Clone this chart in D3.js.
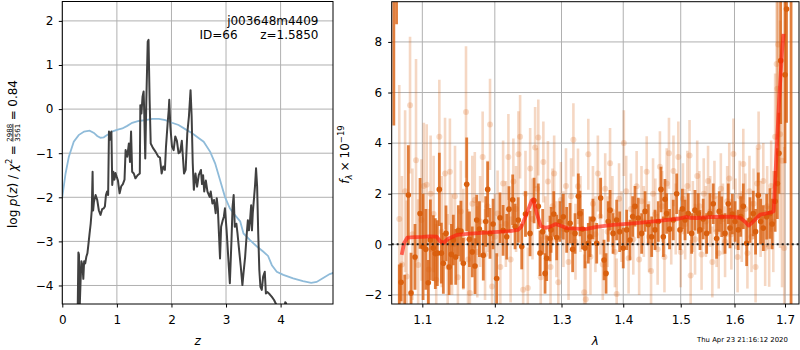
<!DOCTYPE html>
<html>
<head>
<meta charset="utf-8">
<script src="https://cdn.jsdelivr.net/npm/d3@7"></script>
<style>
  body { margin: 0; background: #fff; }
  svg { display: block; }
  text { font-family: "DejaVu Sans", sans-serif; }
</style>
</head>
<body>
<svg id="chart" width="800" height="350"></svg>
<script>
// ---------------- redshift probability, log p(z) ----------------
const pzZ = [0.28,0.295,0.305,0.32,0.335,0.35,0.37,0.385,0.40,0.42,0.44,0.46,0.48,0.50,0.52,0.54,0.555,0.565,0.58,0.61,
  0.64,0.67,0.70,0.73,0.76,0.78,0.80,0.82,0.84,0.855,0.87,0.885,0.90,0.915,0.935,0.955,0.975,1.0,1.02,1.05,
  1.08,1.11,1.14,1.16,1.19,1.22,1.24,1.26,1.28,1.31,1.34,1.38,1.42,1.43,1.45,1.47,1.49,1.50,1.52,1.54,
  1.565,1.58,1.60,1.62,1.66,1.71,1.76,1.79,1.82,1.85,1.88,1.90,1.93,1.95,1.96,1.98,2.01,2.04,2.07,2.10,
  2.13,2.16,2.19,2.21,2.23,2.26,2.29,2.32,2.35,2.37,2.39,2.41,2.44,2.47,2.50,2.54,2.56,2.58,2.60,2.63,
  2.66,2.70,2.72,2.75,2.78,2.81,2.83,2.85,2.87,2.89,2.91,2.94,2.96,2.98,3.01,3.04,3.07,3.10,3.12,3.14,
  3.16,3.19,3.21,3.24,3.27,3.30,3.32,3.35,3.38,3.40,3.42,3.44,3.46,3.475,3.49,3.51,3.53,3.55,3.57,3.59,
  3.61,3.63,3.655,3.68,3.71,3.73,3.76,3.80,3.84,3.88,3.90,3.93,3.96,4.05,4.085,4.10,4.12,4.20];
const pzLog = [-4.8,-3.25,-3.3,-4.45,-3.9,-3.45,-3.55,-3.85,-3.45,-3.5,-3.35,-3.27,-3.05,-2.82,-2.6,-2.29,-1.42,-2.3,-2.1,-1.95,
  -2.06,-2.3,-2.40,-2.27,-2.25,-2.21,-1.95,-1.87,-1.95,-0.51,-0.7,-0.55,-0.51,-1.72,-1.42,-1.6,-1.45,-1.55,-1.62,-1.91,
  -1.75,-1.7,-1.60,-0.93,-1.08,-0.78,-1.2,-0.51,-1.42,-1.46,-1.57,-1.50,-1.46,0.09,-0.1,0.28,0.40,-0.02,-1.12,0.21,
  1.53,1.57,0.21,-0.78,-0.88,-0.97,-1.08,-1.1,-1.46,-1.3,-1.38,-0.85,-0.32,-0.02,0.21,-0.40,-0.85,-0.93,-0.62,-0.72,
  -1.0,-0.97,-0.72,-1.08,-1.46,-1.38,-0.55,-0.17,0.43,-0.17,-1.23,-1.83,-1.46,-1.76,-1.50,-1.38,-1.7,-1.5,-1.87,-1.62,
  -1.87,-1.99,-1.87,-2.14,-2.06,-2.36,-2.02,-2.25,-2.82,-3.39,-2.67,-2.52,-2.44,-2.25,-2.74,-3.35,-3.95,-2.97,-2.21,-1.95,
  -2.67,-2.6,-2.82,-3.2,-3.57,-3.99,-3.72,-3.35,-2.82,-2.52,-2.75,-2.52,-2.18,-2.75,-2.36,-2.06,-1.76,-1.34,-1.76,-2.82,
  -3.65,-4.03,-4.1,-3.80,-3.69,-4.18,-4.15,-4.2,-4.26,-4.33,-4.38,-4.46,-4.75,-4.75,-4.38,-4.4,-4.7,-5.0];

// prior curve
const priorZ = [0,0.06,0.12,0.21,0.30,0.40,0.50,0.58,0.64,0.70,0.76,0.82,0.91,1.0,1.10,1.19,1.28,1.40,1.52,1.65,
  1.77,1.89,2.01,2.13,2.26,2.38,2.49,2.59,2.71,2.80,2.89,2.98,3.07,3.16,3.26,3.32,3.44,3.56,3.68,3.77,
  3.84,3.93,4.05,4.23,4.41,4.56,4.66,4.78,4.90,4.98];
const priorLog = [-1.99,-1.46,-1.08,-0.74,-0.59,-0.51,-0.49,-0.54,-0.61,-0.65,-0.64,-0.59,-0.51,-0.47,-0.44,-0.38,-0.31,-0.27,-0.25,-0.22,
  -0.22,-0.25,-0.31,-0.36,-0.46,-0.55,-0.65,-0.74,-0.97,-1.23,-1.61,-1.99,-2.25,-2.40,-2.55,-2.82,-2.97,-3.11,-3.23,-3.33,
  -3.54,-3.69,-3.76,-3.84,-3.90,-3.94,-3.92,-3.83,-3.74,-3.71];

const pzTicksX = [0, 1, 2, 3, 4];
const pzTicksY = [-4, -3, -2, -1, 0, 1, 2];

// ---------------- spectrum ----------------
const darkWave = [1.0630,1.0665,1.0700,1.0723,1.0770,1.0817,1.0852,1.0904,1.0970,1.1010,1.1046,1.1079,1.1107,1.1146,1.1173,1.1200,1.1227,1.1254,1.1281,1.1317,
  1.1360,1.1390,1.1417,1.1450,1.1486,1.1522,1.1555,1.1602,1.1640,1.1680,1.1718,1.1742,1.1780,1.1835,1.1870,1.1898,1.1931,1.1975,1.2027,1.2075,
  1.2120,1.2173,1.2206,1.2260,1.2295,1.2343,1.2394,1.2450,1.2518,1.2579,1.2643,1.2669,1.2710,1.2746,1.2771,1.2822,1.2838,1.2880,1.2925,1.2975,
  1.3028,1.3081,1.3134,1.3175,1.3213,1.3265,1.3292,1.3330,1.3372,1.3425,1.3453,1.3500,1.3561,1.3626,1.3681,1.3714,1.3750,1.3780,1.3830,1.3890,
  1.3940,1.4000,1.4058,1.4114,1.4160,1.4199,1.4255,1.4313,1.4371,1.4427,1.4486,1.4544,1.4601,1.4649,1.4690,1.4719,1.4749,1.4800,1.4866,1.4927,
  1.4987,1.5030,1.5077,1.5136,1.5198,1.5259,1.5319,1.5351,1.5410,1.5474,1.5536,1.5597,1.5661,1.5710,1.5756,1.5819,1.5881,1.5914,1.5960,1.6010,
  1.6072,1.6120,1.6170,1.6235,1.6300,1.6364,1.6410,1.6464,1.6510,1.6563,1.6630,1.6696,1.6740,1.6800,1.6845,1.6878,1.6912,1.7000,1.7031,1.7124];
const darkFlux = [13.0,14.0,-3.5,-1.5,-2.5,1.95,-1.93,-0.5,1.22,-0.1,-0.2,-1.52,0.17,-0.15,-0.37,-0.35,2.17,-0.35,-0.75,0.43,
  -0.9,-0.4,0.17,-0.5,0.54,0.52,-0.75,2.37,0.2,-0.3,-0.86,0.96,0.6,-0.43,0.9,2.17,0.43,0.8,-1.35,1.05,
  0.55,0.3,1.39,1.76,0.7,0.96,-0.09,1.2,0.43,1.73,1.5,-0.35,0.5,-1.15,-0.55,0.23,0.57,1.2,0.27,0.9,
  1.09,0.57,0.83,-0.2,0.43,1.9,1.22,0.6,-0.15,0.04,0.3,1.0,0.04,1.83,-0.62,-1.15,0.9,1.35,0.43,0.96,
  0.5,-0.15,0.57,0.17,1.1,1.5,1.04,0.43,1.3,0.78,0.30,0.57,0.9,2.17,0.3,1.78,1.22,0.6,0.96,2.0,
  0.57,1.4,0.96,1.22,0.43,1.35,1.22,0.57,1.0,0.43,1.22,1.6,0.23,1.3,1.09,0.43,1.6,0.64,1.2,0.9,
  0.57,1.1,1.5,0.04,0.96,1.22,0.5,1.94,0.9,0.64,1.09,1.22,0.8,1.7,2.4,3.6,7.26,6.7,9.3,14.0];
const darkErr = [8.3,5.3,2.7,0.75,1.3,1.97,1.6,1.3,1.4,2.1,1.6,0.9,1.6,1.3,1.4,1.3,1.45,1.2,1.2,1.1,
  1.1,1.2,1.0,1.1,1.0,1.2,1.0,1.85,1.1,1.0,1.1,1.0,1.1,1.0,1.0,1.1,1.0,1.0,1.0,1.0,
  1.0,0.9,0.9,1.0,0.9,0.9,0.9,0.9,0.9,0.9,0.9,0.9,0.9,0.8,0.9,0.9,0.9,0.9,0.9,0.8,
  0.9,0.9,0.8,0.9,0.8,0.9,0.9,0.8,0.8,0.8,0.8,0.8,0.8,0.8,0.8,0.8,0.8,0.8,0.8,0.8,
  0.8,0.8,0.8,0.8,0.8,0.8,0.8,0.8,0.8,0.8,0.8,0.8,0.8,0.9,0.8,0.8,0.8,0.8,0.8,0.8,
  0.8,0.8,0.8,0.8,0.8,0.8,0.8,0.8,0.8,0.8,0.8,0.8,0.8,0.8,0.8,0.8,0.8,0.8,0.8,0.8,
  0.8,0.8,0.9,0.9,0.9,0.9,0.9,0.9,0.9,0.9,0.9,1.0,1.0,1.2,1.4,1.6,2.5,3.5,4.5,17];

const lightWave = [1.0700,1.0734,1.0775,1.0796,1.0839,1.0870,1.0917,1.0945,1.0989,1.1020,1.1058,1.1085,1.1110,1.1150,1.1185,1.1227,1.1260,1.1304,1.1340,1.1370,
  1.1400,1.1440,1.1480,1.1520,1.1555,1.1592,1.1620,1.1646,1.1680,1.1715,1.1750,1.1790,1.1826,1.1860,1.1895,1.1931,1.1960,1.2000,1.2040,1.2080,
  1.2120,1.2160,1.2197,1.2230,1.2270,1.2310,1.2345,1.2370,1.2415,1.2450,1.2485,1.2520,1.2555,1.2595,1.2625,1.2643,1.2680,1.2720,1.2750,1.2790,
  1.2830,1.2860,1.2886,1.2920,1.2950,1.2990,1.3030,1.3070,1.3110,1.3150,1.3187,1.3220,1.3260,1.3300,1.3359,1.3385,1.3425,1.3460,1.3500,1.3540,
  1.3580,1.3620,1.3660,1.3700,1.3740,1.3780,1.3820,1.3860,1.3890,1.3930,1.3970,1.4010,1.4050,1.4090,1.4130,1.4170,1.4227,1.4270,1.4310,1.4350,
  1.4400,1.4440,1.4475,1.4510,1.4550,1.4590,1.4630,1.4670,1.4710,1.4750,1.4790,1.4830,1.4870,1.4910,1.4957,1.5000,1.5040,1.5080,1.5120,1.5160,
  1.5180,1.5220,1.5260,1.5300,1.5340,1.5380,1.5420,1.5460,1.5500,1.5540,1.5580,1.5620,1.5660,1.5700,1.5740,1.5780,1.5820,1.5860,1.5900,1.5940,
  1.5980,1.6020,1.6060,1.6100,1.6140,1.6170,1.6210,1.6250,1.6290,1.6330,1.6370,1.6410,1.6440,1.6470,1.6510,1.6563,1.6600,1.6640,1.6680,1.6720,
  1.6763,1.6800,1.6830,1.6845,1.6860,1.6900,1.6940,1.6985];
const lightFlux = [1.0,-0.8,2.1,-1.27,5.5,0.4,3.32,-0.82,0.96,2.3,2.35,-1.0,2.0,1.2,-1.4,4.25,0.5,2.8,-0.9,2.87,
  0.0,1.9,-1.3,1.3,0.2,5.23,-0.6,-1.93,1.6,1.75,-0.3,0.9,3.45,-0.4,1.5,4.74,-1.67,0.3,1.22,-0.9,
  2.4,0.8,3.45,-0.6,2.48,1.4,3.56,4.25,-1.8,2.0,-1.73,3.0,1.0,3.83,2.2,4.22,-1.3,3.25,0.3,2.48,
  -0.9,1.5,2.8,0.2,-1.5,1.75,0.6,2.3,-0.7,1.9,4.13,0.1,2.29,1.2,-1.9,-2.17,3.56,-0.49,1.6,0.4,
  2.8,1.1,-0.8,2.2,0.5,3.2,1.3,-0.3,-1.96,1.8,0.7,4.0,2.1,-0.55,1.4,0.2,2.29,-0.6,1.7,0.9,
  2.87,0.3,-1.06,2.0,1.2,-0.2,3.07,1.5,-0.5,2.4,3.6,0.6,2.9,1.0,3.45,-0.3,1.8,0.8,2.3,3.51,
  -1.23,1.1,0.2,2.7,1.5,-0.4,2.0,0.9,2.5,1.3,-0.7,1.9,0.5,-0.35,2.2,1.0,0.1,1.7,2.6,0.4,
  3.57,1.2,-0.5,1.9,0.7,3.17,1.4,-0.35,2.1,0.3,1.6,-0.9,2.4,3.85,1.0,2.5,-0.15,1.5,-0.08,2.3,
  0.9,4.25,7.13,6.15,7.9,4.35,3.3,-0.15];
const lightErr = [5.3,3.5,3.2,3.0,2.7,2.6,4.0,2.6,2.4,2.5,2.4,2.4,2.3,2.3,2.2,2.25,2.2,2.2,2.1,2.1,
  2.0,2.0,2.0,2.0,2.0,2.6,2.0,1.9,1.9,1.9,1.8,1.8,1.8,1.8,1.8,1.8,1.8,1.7,1.7,1.7,
  1.7,1.7,1.7,1.7,1.7,1.7,1.7,1.65,1.7,1.7,1.6,1.6,1.6,1.6,1.6,1.5,1.6,1.6,1.6,1.6,
  1.6,1.5,1.5,1.5,1.5,1.5,1.5,1.5,1.5,1.5,1.45,1.5,1.5,1.5,1.5,1.5,1.4,1.5,1.5,1.5,
  1.5,1.5,1.4,1.4,1.4,1.4,1.4,1.4,1.4,1.4,1.4,1.3,1.4,1.4,1.4,1.4,1.4,1.4,1.4,1.4,
  1.4,1.4,1.4,1.4,1.4,1.4,1.4,1.4,1.4,1.4,1.4,1.4,1.4,1.4,1.4,1.4,1.4,1.4,1.4,1.4,
  1.4,1.4,1.4,1.4,1.4,1.4,1.4,1.4,1.4,1.4,1.4,1.4,1.4,1.4,1.4,1.4,1.4,1.4,1.4,1.4,
  1.4,1.4,1.4,1.4,1.4,1.4,1.4,1.4,1.4,1.4,1.4,1.4,1.4,1.4,1.5,1.5,1.5,1.6,1.6,1.8,
  2.0,2.5,3.0,3.5,4.0,4.5,5.0,4.0];

// best-fit template
const modelWave = [1.0731,1.0761,1.0803,1.0900,1.1000,1.1100,1.1190,1.1237,1.1280,1.1348,1.1464,1.1650,1.1930,1.2220,1.2340,1.2390,1.2470,1.2540,1.2567,1.2620,
  1.2680,1.2746,1.2820,1.2910,1.2970,1.3080,1.3290,1.3400,1.3560,1.3830,1.4110,1.4400,1.4690,1.4980,1.5105,1.5160,1.5290,1.5600,1.5920,1.6110,
  1.6210,1.6275,1.6340,1.6500,1.6700,1.6770,1.6830,1.6880,1.6940,1.6970];
const modelFlux = [-0.42,0.04,0.26,0.28,0.29,0.31,0.30,0.12,0.05,0.22,0.37,0.42,0.47,0.52,0.57,0.70,1.22,1.72,1.78,1.22,
  0.72,0.65,0.69,0.80,0.75,0.64,0.61,0.61,0.69,0.77,0.82,0.88,0.95,1.02,1.08,1.05,1.04,1.08,1.09,1.05,
  0.88,0.74,0.86,1.17,1.25,1.31,3.71,5.69,7.66,8.32];

const specTicksX = [1.1, 1.2, 1.3, 1.4, 1.5, 1.6, 1.7];
const specTicksY = [-2, 0, 2, 4, 6, 8];

// ---------------- drawing ----------------
const svg = d3.select("#chart");
const FS = 12;
const GRID = "#b0b0b0";
const ORANGE = "#d95f0e";

function styleAxis(g) {
  g.select(".domain").remove();
  g.selectAll(".tick line").attr("stroke", "#000").attr("stroke-width", 1);
  g.selectAll(".tick text").attr("font-size", FS).attr("font-family", "DejaVu Sans, sans-serif").attr("fill", "#000");
  g.attr("font-size", null).attr("font-family", null);
}

function drawGrid(g, xs, ys, xt, yt, box) {
  g.selectAll("line.gx").data(xt).join("line").attr("class", "gx")
    .attr("x1", d => xs(d)).attr("x2", d => xs(d)).attr("y1", box.top).attr("y2", box.bottom)
    .attr("stroke", GRID).attr("stroke-width", 1);
  g.selectAll("line.gy").data(yt).join("line").attr("class", "gy")
    .attr("y1", d => ys(d)).attr("y2", d => ys(d)).attr("x1", box.left).attr("x2", box.right)
    .attr("stroke", GRID).attr("stroke-width", 1);
}

// lay out a run of text pieces along a baseline; returns the end position
function layoutRun(g, parts, u0) {
  let u = u0;
  parts.forEach(p => {
    if (p.frac) {
      const num = g.append("text").attr("x", u).attr("y", -5).attr("font-size", 7).text(p.frac[0]);
      const den = g.append("text").attr("x", u).attr("y", 3).attr("font-size", 7).text(p.frac[1]);
      const w = Math.max(num.node().getComputedTextLength(), den.node().getComputedTextLength());
      g.append("line").attr("x1", u).attr("x2", u + w).attr("y1", -3.6).attr("y2", -3.6)
        .attr("stroke", "#000").attr("stroke-width", 0.8);
      u += w + (p.gap || 0);
      return;
    }
    const t = g.append("text").attr("x", u).attr("y", p.dy || 0)
      .attr("font-size", p.size || FS)
      .attr("font-style", p.italic ? "italic" : "normal")
      .text(p.t);
    u += t.node().getComputedTextLength() + (p.gap || 0);
  });
  return u;
}

// ===== left panel: p(z) =====
const zBox = { left: 62.3, right: 333, top: 1.5, bottom: 304 };
const xZ = d3.scaleLinear().domain([0, 4.96]).range([zBox.left, zBox.right]);
const yZ = d3.scaleLinear().domain([-4.42, 2.44]).range([zBox.bottom, zBox.top]);

svg.append("clipPath").attr("id", "clipZ").append("rect")
  .attr("x", zBox.left).attr("y", zBox.top).attr("width", zBox.right - zBox.left).attr("height", zBox.bottom - zBox.top);

const gZ = svg.append("g");
drawGrid(gZ, xZ, yZ, pzTicksX, pzTicksY, zBox);

const plotZ = gZ.append("g").attr("clip-path", "url(#clipZ)");
plotZ.append("path")
  .datum(d3.zip(priorZ, priorLog))
  .attr("fill", "none").attr("stroke", "#8fbbd9").attr("stroke-width", 1.8)
  .attr("d", d3.line().x(d => xZ(d[0])).y(d => yZ(d[1])));
plotZ.append("path")
  .datum(d3.zip(pzZ, pzLog))
  .attr("fill", "none").attr("stroke", "#404040").attr("stroke-width", 2).attr("stroke-linejoin", "round")
  .attr("d", d3.line().x(d => xZ(d[0])).y(d => yZ(d[1])));

gZ.append("rect").attr("x", zBox.left).attr("y", zBox.top)
  .attr("width", zBox.right - zBox.left).attr("height", zBox.bottom - zBox.top)
  .attr("fill", "none").attr("stroke", "#000").attr("stroke-width", 1);

gZ.append("g").attr("transform", `translate(0,${zBox.bottom})`)
  .call(d3.axisBottom(xZ).tickValues(pzTicksX).tickFormat(d3.format("d")).tickSize(3.5).tickPadding(7.5))
  .call(styleAxis);
gZ.append("g").attr("transform", `translate(${zBox.left},0)`)
  .call(d3.axisLeft(yZ).tickValues(pzTicksY).tickFormat(d3.format("d")).tickSize(3.5).tickPadding(5.3))
  .call(styleAxis);

gZ.append("text").attr("x", (zBox.left + zBox.right) / 2).attr("y", 345)
  .attr("text-anchor", "middle").attr("font-size", FS).attr("font-style", "italic").text("z");

gZ.append("text").attr("x", 318.5).attr("y", 24.5).attr("text-anchor", "end").attr("font-size", FS).text("j003648m4409");
gZ.append("text").attr("x", 199.5).attr("y", 39).attr("font-size", FS).text("ID=66");
gZ.append("text").attr("x", 318.5).attr("y", 39).attr("text-anchor", "end").attr("font-size", FS).text("z=1.5850");

// rotated y label with chi-square fraction
{
  const outer = svg.append("g").attr("transform", "translate(16.5,154) rotate(-90)");
  const inner = outer.append("g");
  const end = layoutRun(inner, [
    { t: "log", gap: 3.5 },
    { t: "p", italic: true },
    { t: "(" },
    { t: "z", italic: true },
    { t: ")", gap: 3.8 },
    { t: "/", gap: 3.8 },
    { t: "χ", italic: true },
    { t: "2", size: 8.5, dy: -5, gap: 3.5 },
    { t: "=", gap: 3.5 },
    { frac: ["2988", "3561"], gap: 3.5 },
    { t: "=", gap: 3.5 },
    { t: "0.84" }
  ], 0);
  inner.attr("transform", `translate(${-end / 2},0)`);
}

// ===== right panel: spectrum =====
const sBox = { left: 391.7, right: 799, top: 1.7, bottom: 304 };
const xW = d3.scaleLog().domain([1.0603, 1.7288]).range([sBox.left, sBox.right]);
const yF = d3.scaleLinear().domain([-2.36, 9.59]).range([sBox.bottom, sBox.top]);

svg.append("clipPath").attr("id", "clipS").append("rect")
  .attr("x", sBox.left).attr("y", sBox.top).attr("width", sBox.right - sBox.left).attr("height", sBox.bottom - sBox.top);

const gS = svg.append("g");
drawGrid(gS, xW, yF, specTicksX, specTicksY, sBox);

const plotS = gS.append("g").attr("clip-path", "url(#clipS)");

const light = d3.range(lightWave.length).map(i => ({ w: lightWave[i], f: lightFlux[i], e: lightErr[i] }));
const dark = d3.range(darkWave.length).map(i => ({ w: darkWave[i], f: darkFlux[i], e: darkErr[i] }));

// faint spectrum
plotS.append("g").selectAll("line").data(light).join("line")
  .attr("x1", d => xW(d.w)).attr("x2", d => xW(d.w))
  .attr("y1", d => yF(d.f - d.e)).attr("y2", d => yF(d.f + d.e))
  .attr("stroke", ORANGE).attr("stroke-opacity", 0.25).attr("stroke-width", 2.6);
plotS.append("g").selectAll("circle").data(light).join("circle")
  .attr("cx", d => xW(d.w)).attr("cy", d => yF(d.f)).attr("r", 3)
  .attr("fill", ORANGE).attr("fill-opacity", 0.22);

// main spectrum
plotS.append("g").selectAll("line").data(dark).join("line")
  .attr("x1", d => xW(d.w)).attr("x2", d => xW(d.w))
  .attr("y1", d => yF(d.f - d.e)).attr("y2", d => yF(d.f + d.e))
  .attr("stroke", ORANGE).attr("stroke-opacity", 0.8).attr("stroke-width", 2.8);
plotS.append("g").selectAll("circle").data(dark).join("circle")
  .attr("cx", d => xW(d.w)).attr("cy", d => yF(d.f)).attr("r", 2.8)
  .attr("fill", ORANGE);

// model
plotS.append("path")
  .datum(d3.zip(modelWave, modelFlux))
  .attr("fill", "none").attr("stroke", "#ff1a0a").attr("stroke-opacity", 0.65)
  .attr("stroke-width", 3.8).attr("stroke-linejoin", "round")
  .attr("d", d3.line().x(d => xW(d[0])).y(d => yF(d[1])));

// zero level
plotS.append("line").attr("x1", sBox.left).attr("x2", sBox.right)
  .attr("y1", yF(0)).attr("y2", yF(0))
  .attr("stroke", "#1a1a1a").attr("stroke-width", 2).attr("stroke-dasharray", "2,3");

gS.append("rect").attr("x", sBox.left).attr("y", sBox.top)
  .attr("width", sBox.right - sBox.left).attr("height", sBox.bottom - sBox.top)
  .attr("fill", "none").attr("stroke", "#000").attr("stroke-width", 1);

gS.append("g").attr("transform", `translate(0,${sBox.bottom})`)
  .call(d3.axisBottom(xW).tickValues(specTicksX).tickFormat(d3.format(".1f")).tickSize(3.5).tickPadding(7.5))
  .call(styleAxis);
gS.append("g").attr("transform", `translate(${sBox.left},0)`)
  .call(d3.axisLeft(yF).tickValues(specTicksY).tickFormat(d3.format("d")).tickSize(3.5).tickPadding(6))
  .call(styleAxis);

gS.append("text").attr("x", (sBox.left + sBox.right) / 2).attr("y", 345)
  .attr("text-anchor", "middle").attr("font-size", FS).attr("font-style", "italic").text("λ");

{
  const outer = svg.append("g").attr("transform", "translate(349,154.5) rotate(-90)");
  const inner = outer.append("g");
  const end = layoutRun(inner, [
    { t: "f", italic: true },
    { t: "λ", italic: true, size: 8.5, dy: 2.5, gap: 3 },
    { t: "×", gap: 3 },
    { t: "10" },
    { t: "−19", size: 8.5, dy: -5 }
  ], 0);
  inner.attr("transform", `translate(${-end / 2},0)`);
}

svg.append("text").attr("x", 697).attr("y", 341.5).attr("font-size", 6.9).text("Thu Apr 23 21:16:12 2020");
</script>
</body>
</html>
